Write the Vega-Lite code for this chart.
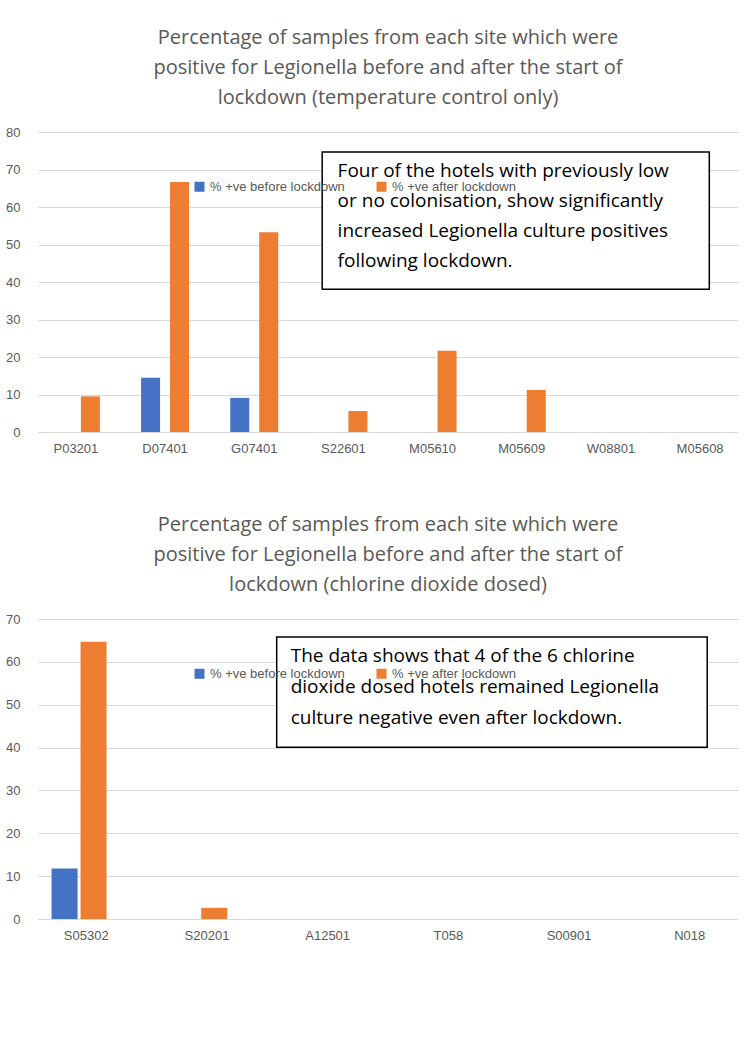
{
  "$schema": "https://vega.github.io/schema/vega-lite/v6.json",
  "background": "white",
  "padding": {"left": 5, "top": 28, "right": 5, "bottom": 5},
  "config": {
    "font": "Liberation Sans",
    "view": {"stroke": null},
    "title": {"font": "Open Sans", "fontSize": 20, "fontWeight": "normal", "color": "#595959", "lineHeight": 30, "offset": 18},
    "axis": {"labelFont": "Liberation Sans", "labelFontSize": 13, "labelColor": "#595959", "title": null},
    "legend": {"labelFontSize": 13, "labelColor": "#595959", "orient": "none", "legendX": 155, "legendY": 48, "direction": "horizontal", "title": null, "symbolType": "square", "columnPadding": 30}
  },
  "datasets": {
    "temp": [
      {"site": "P03201", "series": "% +ve before lockdown", "pct": 0},
      {"site": "P03201", "series": "% +ve after lockdown", "pct": 9.5},
      {"site": "D07401", "series": "% +ve before lockdown", "pct": 14.5},
      {"site": "D07401", "series": "% +ve after lockdown", "pct": 66.7},
      {"site": "G07401", "series": "% +ve before lockdown", "pct": 9.1},
      {"site": "G07401", "series": "% +ve after lockdown", "pct": 53.3},
      {"site": "S22601", "series": "% +ve before lockdown", "pct": 0},
      {"site": "S22601", "series": "% +ve after lockdown", "pct": 5.6},
      {"site": "M05610", "series": "% +ve before lockdown", "pct": 0},
      {"site": "M05610", "series": "% +ve after lockdown", "pct": 21.7},
      {"site": "M05609", "series": "% +ve before lockdown", "pct": 0},
      {"site": "M05609", "series": "% +ve after lockdown", "pct": 11.2},
      {"site": "W08801", "series": "% +ve before lockdown", "pct": 0},
      {"site": "W08801", "series": "% +ve after lockdown", "pct": 0},
      {"site": "M05608", "series": "% +ve before lockdown", "pct": 0},
      {"site": "M05608", "series": "% +ve after lockdown", "pct": 0}
    ],
    "chlor": [
      {"site": "S05302", "series": "% +ve before lockdown", "pct": 11.8},
      {"site": "S05302", "series": "% +ve after lockdown", "pct": 64.7},
      {"site": "S20201", "series": "% +ve before lockdown", "pct": 0},
      {"site": "S20201", "series": "% +ve after lockdown", "pct": 2.6},
      {"site": "A12501", "series": "% +ve before lockdown", "pct": 0},
      {"site": "A12501", "series": "% +ve after lockdown", "pct": 0},
      {"site": "T058", "series": "% +ve before lockdown", "pct": 0},
      {"site": "T058", "series": "% +ve after lockdown", "pct": 0},
      {"site": "S00901", "series": "% +ve before lockdown", "pct": 0},
      {"site": "S00901", "series": "% +ve after lockdown", "pct": 0},
      {"site": "N018", "series": "% +ve before lockdown", "pct": 0},
      {"site": "N018", "series": "% +ve after lockdown", "pct": 0}
    ],
    "note1": [{"x": 0.406, "x2": 0.959, "y": 74.7, "y2": 38.1, "tx": 0.428, "ty": 72, "text": ["Four of the hotels with previously low", "or no colonisation, show significantly", "increased Legionella culture positives", "following lockdown."]}],
    "note2": [{"x": 0.341, "x2": 0.956, "y": 65.8, "y2": 40.1, "tx": 0.361, "ty": 63.5, "text": ["The data shows that 4 of the 6 chlorine", "dioxide dosed hotels remained Legionella", "culture negative even after lockdown."]}]
  },
  "vconcat": [
    {
      "title": {"text": ["Percentage of samples from each site which were", "positive for Legionella before and after the start of", "lockdown (temperature control only)"], "anchor": "middle"},
      "width": 700,
      "height": 300,
      "layer": [
        {
          "data": {"name": "temp"},
          "mark": {"type": "bar", "size": 19},
          "encoding": {
            "x": {"field": "site", "type": "nominal", "sort": null, "scale": {"paddingInner": 0.35, "paddingOuter": 0.1}, "axis": {"labelAngle": 0, "ticks": false, "domainColor": "#d9d9d9", "labelPadding": 10}},
            "xOffset": {"field": "series", "sort": ["% +ve before lockdown", "% +ve after lockdown"]},
            "y": {"field": "pct", "type": "quantitative", "scale": {"domain": [0, 80]}, "axis": {"tickCount": 8, "domain": false, "ticks": false, "gridColor": "#d9d9d9", "labelPadding": 18}},
            "color": {"field": "series", "type": "nominal", "sort": ["% +ve before lockdown", "% +ve after lockdown"], "scale": {"range": ["#4472c4", "#ed7d31"]}}
          }
        },
        {
          "data": {"name": "note1"},
          "mark": {"type": "rect", "fill": "white", "stroke": "black", "strokeWidth": 1.5},
          "encoding": {
            "x": {"field": "x", "type": "quantitative", "scale": {"domain": [0, 1]}, "axis": null},
            "x2": {"field": "x2"},
            "y": {"field": "y", "type": "quantitative"},
            "y2": {"field": "y2"}
          }
        },
        {
          "data": {"name": "note1"},
          "mark": {"type": "text", "align": "left", "baseline": "top", "fontSize": 19, "lineHeight": 30, "font": "Open Sans", "color": "black"},
          "encoding": {
            "x": {"field": "tx", "type": "quantitative", "scale": {"domain": [0, 1]}, "axis": null},
            "y": {"field": "ty", "type": "quantitative"},
            "text": {"field": "text"}
          }
        }
      ],
      "resolve": {"scale": {"x": "independent"}}
    },
    {
      "title": {"text": ["Percentage of samples from each site which were", "positive for Legionella before and after the start of", "lockdown (chlorine dioxide dosed)"], "anchor": "middle"},
      "width": 700,
      "height": 300,
      "layer": [
        {
          "data": {"name": "chlor"},
          "mark": {"type": "bar", "size": 26},
          "encoding": {
            "x": {"field": "site", "type": "nominal", "sort": null, "scale": {"paddingInner": 0.4, "paddingOuter": 0.1}, "axis": {"labelAngle": 0, "ticks": false, "domainColor": "#d9d9d9", "labelPadding": 10}},
            "xOffset": {"field": "series", "sort": ["% +ve before lockdown", "% +ve after lockdown"]},
            "y": {"field": "pct", "type": "quantitative", "scale": {"domain": [0, 70]}, "axis": {"tickCount": 7, "domain": false, "ticks": false, "gridColor": "#d9d9d9", "labelPadding": 18}},
            "color": {"field": "series", "type": "nominal", "sort": ["% +ve before lockdown", "% +ve after lockdown"], "scale": {"range": ["#4472c4", "#ed7d31"]}}
          }
        },
        {
          "data": {"name": "note2"},
          "mark": {"type": "rect", "fill": "white", "stroke": "black", "strokeWidth": 1.5},
          "encoding": {
            "x": {"field": "x", "type": "quantitative", "scale": {"domain": [0, 1]}, "axis": null},
            "x2": {"field": "x2"},
            "y": {"field": "y", "type": "quantitative"},
            "y2": {"field": "y2"}
          }
        },
        {
          "data": {"name": "note2"},
          "mark": {"type": "text", "align": "left", "baseline": "top", "fontSize": 19, "lineHeight": 31, "font": "Open Sans", "color": "black"},
          "encoding": {
            "x": {"field": "tx", "type": "quantitative", "scale": {"domain": [0, 1]}, "axis": null},
            "y": {"field": "ty", "type": "quantitative"},
            "text": {"field": "text"}
          }
        }
      ],
      "resolve": {"scale": {"x": "independent"}}
    }
  ],
  "resolve": {"legend": {"color": "independent"}},
  "spacing": 60
}
